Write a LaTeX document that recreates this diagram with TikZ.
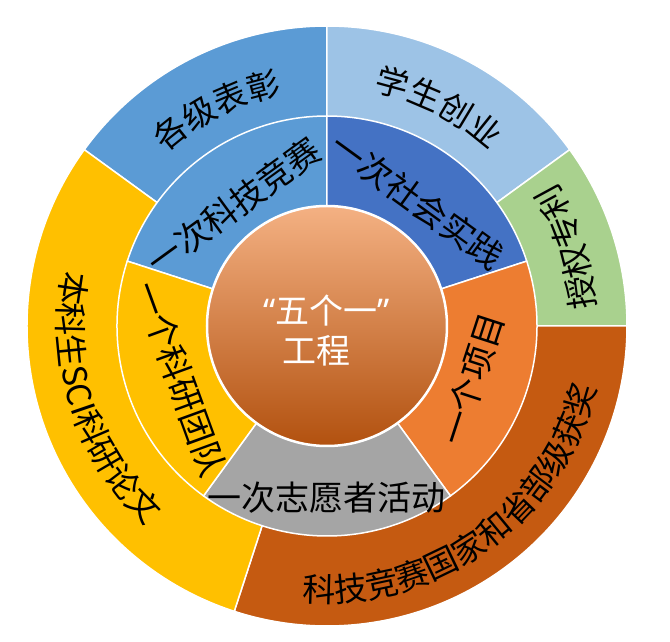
\documentclass[tikz,border=0pt]{standalone}
\usepackage{fontspec}
\setmainfont{Noto Sans CJK SC}
\newfontfamily\quotefont{Noto Sans}
\usetikzlibrary{decorations.text}
\definecolor{blueA}{HTML}{5B9BD5}
\definecolor{blueL}{HTML}{9DC3E6}
\definecolor{blueD}{HTML}{4472C4}
\definecolor{greenL}{HTML}{A9D18E}
\definecolor{orangeA}{HTML}{ED7D31}
\definecolor{orangeD}{HTML}{C55A11}
\definecolor{grayA}{HTML}{A5A5A5}
\definecolor{goldA}{HTML}{FFC000}
\definecolor{coreTop}{HTML}{F4B183}
\definecolor{coreMid}{HTML}{EE843C}
\definecolor{coreBot}{HTML}{B2510F}
\newcommand{\lblfont}{\fontsize{33}{33}\selectfont}
\newcommand{\innerfont}{\fontsize{34}{34}\selectfont}
\tikzset{
  seg/.style={draw=white, line width=1.5pt},
  inlbl/.style={font=\innerfont, inner sep=0pt},
  ringtext/.style={decorate, decoration={text along path, text align=center, text={|\lblfont|#1}}},
}
\begin{document}
\begin{tikzpicture}
\useasboundingbox (-327pt,-316pt) rectangle (343pt,326pt);
% outer ring
\draw[seg, fill=blueA] (0,0) -- (144:300pt) arc[start angle=144, end angle=90, radius=300pt] -- cycle;
\draw[seg, fill=blueL] (0,0) -- (90:300pt) arc[start angle=90, end angle=36, radius=300pt] -- cycle;
\draw[seg, fill=greenL] (0,0) -- (36:300pt) arc[start angle=36, end angle=0, radius=300pt] -- cycle;
\draw[seg, fill=orangeD] (0,0) -- (0:300pt) arc[start angle=0, end angle=-108, radius=300pt] -- cycle;
\draw[seg, fill=goldA] (0,0) -- (-108:300pt) arc[start angle=-108, end angle=-216, radius=300pt] -- cycle;
% inner ring
\draw[seg, fill=blueA] (0,0) -- (162:210pt) arc[start angle=162, end angle=90, radius=210pt] -- cycle;
\draw[seg, fill=blueD] (0,0) -- (90:210pt) arc[start angle=90, end angle=18, radius=210pt] -- cycle;
\draw[seg, fill=orangeA] (0,0) -- (18:210pt) arc[start angle=18, end angle=-54, radius=210pt] -- cycle;
\draw[seg, fill=grayA] (0,0) -- (-54:210pt) arc[start angle=-54, end angle=-126, radius=210pt] -- cycle;
\draw[seg, fill=goldA] (0,0) -- (-126:210pt) arc[start angle=-126, end angle=-198, radius=210pt] -- cycle;
% centre
\node[circle, inner sep=0pt, minimum size=240pt, draw=white, line width=2.5pt,
      top color=coreTop, middle color=coreMid, bottom color=coreBot] (core) at (0,0) {};
\node[text=white, align=center, font=\fontsize{34}{40}\selectfont] (title) at (0,-5pt)
      {{\quotefont“}五个一{\quotefont”}\\工程\hspace*{20pt}};
% labels, inner ring
\node[inlbl, rotate=36] (jingsai) at (128:152pt) {一次科技竞赛};
\node[inlbl, rotate=-36] (shijian) at (54:154pt) {一次社会实践};
\node[inlbl, rotate=72] (xiangmu) at (-20:154pt) {一个项目};
\node[inlbl] (zhiyuan) at (-90:172pt) {一次志愿者活动};
\node[inlbl, rotate=-70] (tuandui) at (200:156pt) {一个科研团队};
% labels, outer ring
\path[ringtext={各级表彰}] (197:236pt) arc[start angle=197, end angle=37, radius=236pt];
\path[ringtext={学生创业}] (143:239pt) arc[start angle=143, end angle=-17, radius=239pt];
\path[ringtext={授权专利}] (-62:269pt) arc[start angle=-62, end angle=98, radius=269pt];
\path[ringtext={科技竞赛国家和省部级获奖}] (-134:276pt) arc[start angle=-134, end angle=26, radius=276pt];
\path[ringtext={本科生SCI科研论文}] (118:269pt) arc[start angle=118, end angle=278, radius=269pt];
\end{tikzpicture}
\end{document}
